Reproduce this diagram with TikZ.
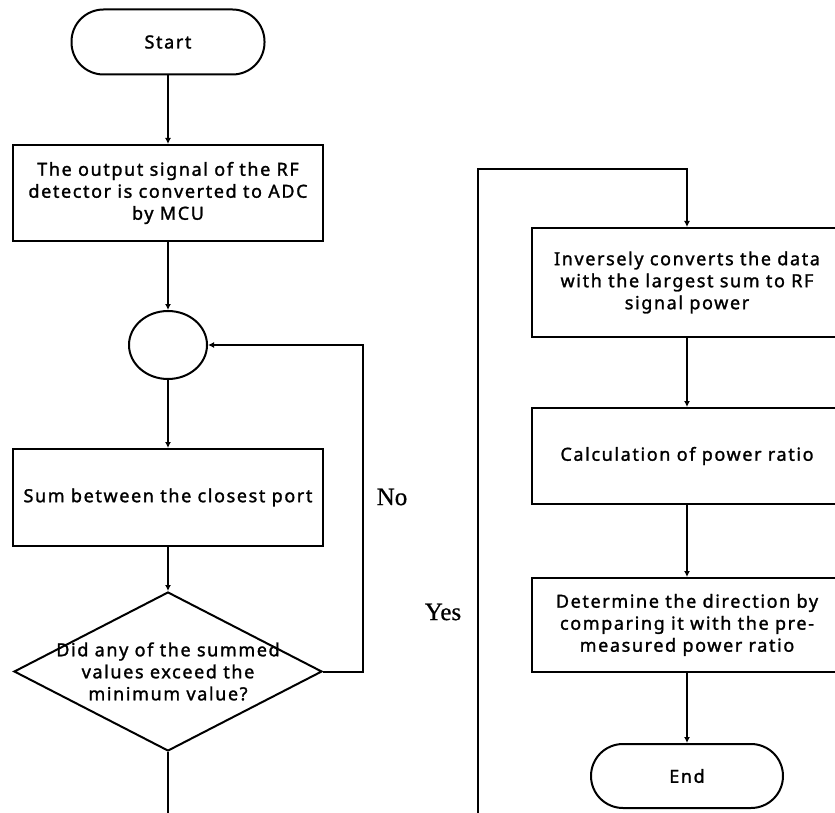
\documentclass[tikz,border=0pt]{standalone}
\usepackage{fontspec}
\setmainfont{Noto Sans}[FakeBold=1.5,LetterSpace=9,UprightFeatures={FakeBold=1.5}]
\newfontfamily\lblfont{Liberation Serif}[FakeBold=0.6]
\usetikzlibrary{shapes.geometric,arrows.meta}
\begin{document}
\begin{tikzpicture}[x=1pt,y=-1pt,
  every node/.style={font=\fontsize{18}{22}\selectfont},
  proc/.style={draw,line width=2pt,rectangle,minimum width=310pt,align=center,inner sep=0pt},
  term/.style={draw,line width=2pt,rectangle,rounded corners=32pt,minimum width=193pt,minimum height=65pt,inner sep=0pt},
  conn/.style={line width=2pt},
  arr/.style={conn,-{Latex[length=6pt,width=6pt]}},
  lbl/.style={font=\lblfont\fontsize{25}{27}\selectfont}
]
\useasboundingbox (0,0) rectangle (835,813);
% left column
\node[term] (start) at (168,42) {Start};
\node[proc,minimum height=96pt] (b1) at (168,193) {The output signal of the RF\\detector is converted to ADC\\by MCU};
\node[draw,line width=2pt,ellipse,minimum width=78pt,minimum height=68pt,inner sep=0pt] (junc) at (168,345) {};
\node[proc,minimum height=97pt] (b2) at (168,497.5) {Sum between the closest port};
\node[draw,line width=2pt,diamond,minimum width=308pt,minimum height=159pt,inner sep=0pt] (dec) at (168,671.5) {};
\node[align=center,inner sep=0pt] (dect) at (168,671.5) {Did any of the summed\\values exceed the\\minimum value?};
% right column
\node[proc,minimum height=109pt] (b3) at (687,282.5) {Inversely converts the data\\with the largest sum to RF\\signal power};
\node[proc,minimum height=96pt] (b4) at (687,456) {Calculation of power ratio};
\node[proc,minimum height=94pt] (b5) at (687,625) {Determine the direction by\\comparing it with the pre-\\measured power ratio};
\node[term,minimum width=192pt,minimum height=64pt] (end) at (687,776) {End};
% labels
\node[lbl] (no) at (392,497) {No};
\node[lbl] (yes) at (443,612) {Yes};
% connectors
\draw[arr] (start) -- (b1);
\draw[arr] (b1) -- (junc);
\draw[arr] (junc) -- (b2);
\draw[arr] (b2) -- (dec);
\coordinate (nx) at (363,345);
\draw[arr] (dec.east) -| (nx) -- (junc.east);
\coordinate (d1) at (168,816);
\draw[conn] (dec.south) -- (d1);
\coordinate (yb) at (478,816);
\coordinate (yt) at (478,169);
\draw[arr] (yb) -- (yt) -| (b3.north);
\draw[arr] (b3) -- (b4);
\draw[arr] (b4) -- (b5);
\draw[arr] (b5) -- (end);
\end{tikzpicture}
\end{document}
